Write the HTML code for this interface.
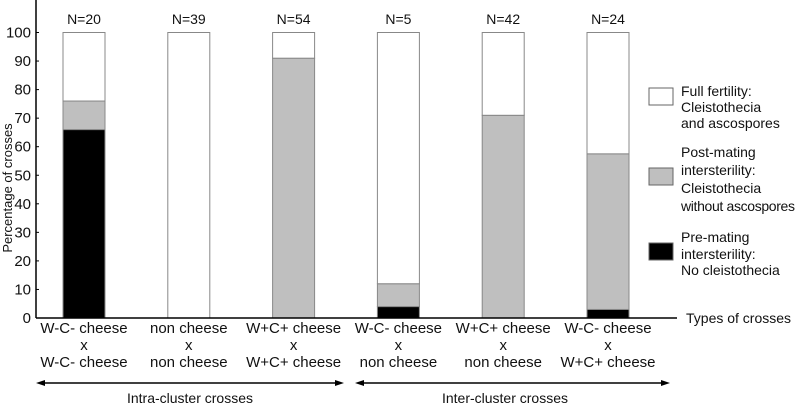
<!DOCTYPE html>
<html><head><meta charset="utf-8"><style>
body{margin:0;background:#fff;}
svg text{font-family:"Liberation Sans",sans-serif;fill:#111;}
</style></head><body>
<svg width="800" height="405" viewBox="0 0 800 405">
<g id="bars"></g>
<g id="axes"></g>
</svg>
<script>
const categories1=["W-C- cheese","non cheese","W+C+ cheese","W-C- cheese","W+C+ cheese","W-C- cheese"];
const categories2=["W-C- cheese","non cheese","W+C+ cheese","non cheese","non cheese","W+C+ cheese"];
const nLabels=["N=20","N=39","N=54","N=5","N=42","N=24"];
const preMating=[66,0,0,4,0,3];
const postMating=[10,0,91,8,71,54.5];
const fullFertility=[24,100,9,88,29,42.5];
const yTicks=[0,10,20,30,40,50,60,70,80,90,100];

const NS="http://www.w3.org/2000/svg";
const svg=document.querySelector('svg');
const y0=318,y100=32.5;
function yScale(v){return y0-(y0-y100)*v/100;}
function xCenter(i){return 84+i*104.8;}
const bw=42;
function mk(tag,attrs,parent,text){const e=document.createElementNS(NS,tag);for(const k in attrs)e.setAttribute(k,attrs[k]);if(text!==undefined)e.textContent=text;(parent||svg).appendChild(e);return e;}
const gb=document.getElementById('bars');
const fills=["#000","#bfbfbf","#fff"];
const names=["pre-mating","post-mating","full-fertility"];
categories1.forEach((c,i)=>{
  const vals=[preMating[i],postMating[i],fullFertility[i]];
  let acc=0;
  vals.forEach((v,k)=>{
    if(v<=0){return;}
    const r=mk('rect',{x:xCenter(i)-bw/2,y:yScale(acc+v),width:bw,height:yScale(acc)-yScale(acc+v),fill:fills[k],stroke:"#888","stroke-width":1},gb);
    
    
    acc+=v;
  });
  const t=mk('text',{x:xCenter(i),y:24,"text-anchor":"middle","font-size":14},svg,nLabels[i]);
  
  
  const l=mk('text',{x:xCenter(i),y:333,"text-anchor":"middle","font-size":15},svg);
  
  
  mk('tspan',{x:xCenter(i),dy:0},l,c);
  mk('tspan',{x:xCenter(i),dy:17},l,"x");
  mk('tspan',{x:xCenter(i),dy:17},l,categories2[i]);
});
const ga=document.getElementById('axes');
const ya=mk('line',{x1:36,y1:0,x2:36,y2:318,stroke:"#000","stroke-width":1.5},ga);

const xa=mk('line',{x1:36,y1:318,x2:677,y2:318,stroke:"#000","stroke-width":1.5},ga);

yTicks.forEach(v=>{
  const t=mk('text',{x:31,y:yScale(v)+5,"text-anchor":"end","font-size":15},ga,String(v));
  
  
  const tk=mk('line',{x1:36,y1:yScale(v),x2:39,y2:yScale(v),stroke:"#000","stroke-width":1},ga);
  
  
});
const yt=mk('text',{x:0,y:0,transform:"translate(12,188) rotate(-90)","text-anchor":"middle","font-size":13},ga,"Percentage of crosses");

const xt=mk('text',{x:686,y:323,"font-size":14},ga,"Types of crosses");

function arrow(x1,x2,label,cx,name){
  const g=mk('g',{},ga);
  
  mk('line',{x1:x1+6,y1:383,x2:x2-6,y2:383,stroke:"#000","stroke-width":1.5},g);
  mk('polygon',{points:`${x1},383 ${x1+9},380 ${x1+9},386`,fill:"#000"},g);
  mk('polygon',{points:`${x2},383 ${x2-9},380 ${x2-9},386`,fill:"#000"},g);
  mk('text',{x:cx,y:403,"text-anchor":"middle","font-size":14},g,label);
}
arrow(36,344,"Intra-cluster crosses",190,"intra-cluster-arrow");
arrow(355,670,"Inter-cluster crosses",505,"inter-cluster-arrow");
const legend=[["#fff",88,["Full fertility:","Cleistothecia","and ascospores"],[96,112,128],"legend-full-fertility"],
["#bfbfbf",168,["Post-mating","intersterility:","Cleistothecia","without ascospores"],[157,175,193,211],"legend-post-mating"],
["#000",243,["Pre-mating","intersterility:","No cleistothecia"],[242,259,275],"legend-pre-mating"]];
legend.forEach(([f,by,lines,ys,name])=>{
  const g=mk('g',{},svg);
  
  mk('rect',{x:649,y:by,width:24,height:17,fill:f,stroke:"#666","stroke-width":1},g);
  lines.forEach((s,k)=>{
    const t=mk('text',{x:681,y:ys[k],"font-size":14},g,s);
    if(s==="without ascospores")t.setAttribute('textLength',114);
  });
});
</script>
</body></html>
